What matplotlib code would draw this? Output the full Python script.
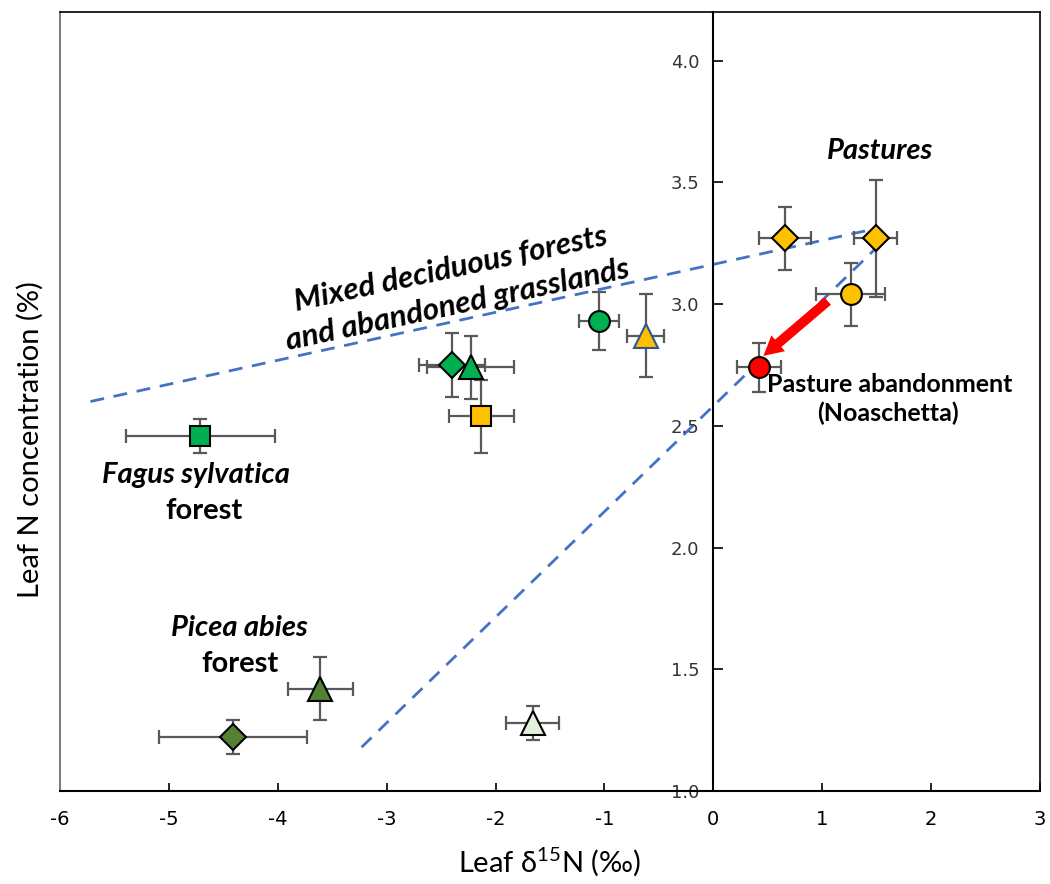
#coding:UTF-8
import matplotlib
matplotlib.use('Agg')
import matplotlib.pyplot as plt

# points: leaf d15N (x), leaf N (y) with errors
labels = ['Fagus', 'MixDiamond', 'MixTriangle', 'YelSquare', 'MixCircle', 'YelTriangle',
          'PaleTriangle', 'PiceaTriangle', 'PiceaDiamond', 'PastDiamond1', 'PastDiamond2',
          'PastCircle', 'Abandon']
xval = [-4.71, -2.40, -2.23, -2.13, -1.05, -0.62, -1.66, -3.61, -4.41, 0.66, 1.49, 1.26, 0.42]
yval = [2.46, 2.75, 2.74, 2.54, 2.93, 2.87, 1.28, 1.42, 1.22, 3.27, 3.27, 3.04, 2.74]
xerr = [0.68, 0.30, 0.40, 0.30, 0.18, 0.17, 0.24, 0.30, 0.68, 0.24, 0.20, 0.32, 0.20]
yerr = [0.07, 0.13, 0.13, 0.15, 0.12, 0.17, 0.07, 0.13, 0.07, 0.13, 0.24, 0.13, 0.10]
markers = ['s', 'D', '^', 's', 'o', '^', '^', '^', 'D', 'D', 'D', 'o', 'o']
colors = ['#00B050', '#00B050', '#00B050', '#FFC000', '#00B050', '#FFC000', '#E2EFDA',
          '#548235', '#548235', '#FFC000', '#FFC000', '#FFC000', '#FF0000']
msizes = [15, 13, 17, 15, 15, 17, 17, 17, 13, 13, 13, 15, 15]

# dashed envelope lines
line1_x = [-5.72, 1.49]
line1_y = [2.60, 3.31]
line2_x = [-3.23, 1.54]
line2_y = [1.18, 3.25]

# arrow (tail -> head)
arrow_tail = (1.07, 3.02)
arrow_head = (0.44, 2.78)

xticks = [-6, -5, -4, -3, -2, -1, 0, 1, 2, 3]
yticks = [1.0, 1.5, 2.0, 2.5, 3.0, 3.5, 4.0]

if __name__ == '__main__':
    plt.rcParams['font.family'] = ['Lato', 'DejaVu Sans']

    fig = plt.figure(figsize=(10.5, 8.84), dpi=100)
    ax = fig.add_axes([60 / 1050, 1 - 791 / 884, 980 / 1050, 779 / 884])

    ax.plot(line1_x, line1_y, color='#4472C4', lw=2, dashes=(5, 3.5), zorder=1)
    ax.plot(line2_x, line2_y, color='#4472C4', lw=2, dashes=(5, 3.5), zorder=1)

    for i in range(len(xval)):
        ax.errorbar(xval[i], yval[i], xerr=xerr[i], yerr=yerr[i], fmt='none',
                    ecolor='#595959', elinewidth=1.6, capsize=5, capthick=1.6, zorder=2)
        ec = '#2F5597' if (markers[i] == '^' and colors[i] == '#FFC000') else 'black'
        ax.plot(xval[i], yval[i], marker=markers[i], ms=msizes[i], mfc=colors[i],
                mec=ec, mew=1.5, ls='none', zorder=3)

    ax.annotate('', xy=arrow_head, xytext=arrow_tail,
                arrowprops=dict(arrowstyle='simple,head_width=1.5,head_length=1.4,tail_width=0.7',
                                color='#FF0000', lw=0), zorder=4)

    # texts
    tf = 21
    ax.text(1.53, 3.63, 'Pastures', fontsize=tf, fontweight='bold', style='italic',
            ha='center', va='center')
    ax.text(-2.38, 3.07, 'Mixed deciduous forests\nand abandoned grasslands', fontsize=22.5,
            fontweight='bold', style='italic', ha='center', va='center', rotation=12,
            linespacing=1.4)
    ax.text(-4.75, 2.30, 'Fagus sylvatica', fontsize=tf, fontweight='bold', style='italic',
            ha='center', va='center')
    ax.text(-4.68, 2.15, 'forest', fontsize=tf, fontweight='bold', ha='center', va='center')
    ax.text(-4.35, 1.67, 'Picea abies', fontsize=tf, fontweight='bold', style='italic',
            ha='center', va='center')
    ax.text(-4.35, 1.52, 'forest', fontsize=tf, fontweight='bold', ha='center', va='center')
    ax.text(1.62, 2.67, 'Pasture abandonment', fontsize=18, fontweight='bold',
            ha='center', va='center')
    ax.text(1.6, 2.55, '(Noaschetta)', fontsize=18, fontweight='bold',
            ha='center', va='center')

    ax.set_xlim(-6, 3)
    ax.set_ylim(1.0, 4.2)

    # y axis crossing at x=0, frame kept around the plot
    ax.spines['left'].set_position(('data', 0))
    ax.spines['left'].set_linewidth(1.5)
    ax.spines['bottom'].set_linewidth(1.5)
    ax.spines['top'].set_linewidth(1.2)
    ax.spines['right'].set_linewidth(1.2)
    ax.plot([0, 0], [0, 1], transform=ax.transAxes, color='#7F7F7F', lw=1.5, clip_on=False)

    ax.set_xticks(xticks)
    ax.set_yticks(yticks)
    ax.set_xticklabels([str(t) for t in xticks], family=['Liberation Sans Narrow', 'DejaVu Sans'],
                       fontsize=14)
    ax.set_yticklabels(['%.1f' % t for t in yticks], family='DejaVu Sans', fontsize=13,
                       color='#333333')
    ax.tick_params(axis='x', direction='in', length=6, width=1.2, pad=14)
    ax.tick_params(axis='y', direction='in', length=7, width=1.2, pad=10)

    fig.text(0.5 * (60 + 1040) / 1050, 1 - 862 / 884, 'Leaf $\\mathregular{\\delta^{15}}$N (‰)',
             fontsize=21, ha='center', va='center')
    fig.text(30 / 1050, 1 - 440 / 884, 'Leaf N concentration (%)', fontsize=21,
             ha='center', va='center', rotation=90)

    plt.savefig('out.png', dpi=100)
    plt.close()
